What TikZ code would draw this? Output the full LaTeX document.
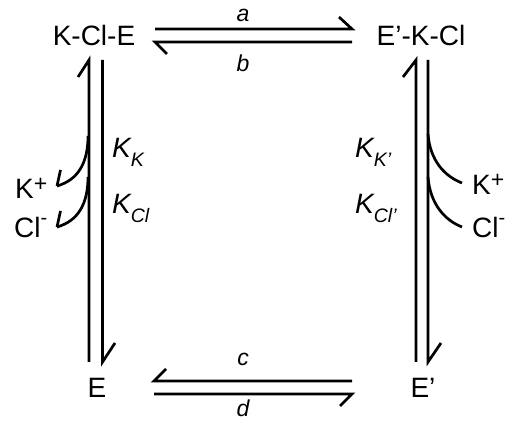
\documentclass[tikz,border=0pt]{standalone}
\usepackage{fontspec}
\setmainfont{Liberation Sans}
\newcommand{\bigf}{\fontsize{28}{30}\selectfont}
\newcommand{\smallf}{\fontsize{19.5}{21}\selectfont}
\newcommand{\labf}{\fontsize{23}{25}\selectfont\itshape}
\newcommand{\subs}[1]{\raisebox{-9pt}{\smallf #1}}
\newcommand{\supplus}{\raisebox{7.5pt}{\fontsize{23}{24}\selectfont +}}
\newcommand{\supminus}{\raisebox{13pt}{\fontsize{20}{21}\selectfont -}}
\begin{document}
\begin{tikzpicture}[x=1pt,y=-1pt,
  line/.style={line width=2.7pt,line join=miter,line cap=butt},
  curveline/.style={line width=2.7pt,line cap=butt},
  txt/.style={inner sep=0pt,anchor=base,font=\bigf},
  lbl/.style={inner sep=0pt,anchor=base,font=\labf},
  ktxt/.style={inner sep=0pt,anchor=base west,font=\bigf\itshape},
  iontxt/.style={inner sep=0pt,anchor=base west,font=\bigf}]
\useasboundingbox (0,0) rectangle (514,427);
% species
\node[txt] (KClE) at (94,46) {K-Cl-E};
\node[txt] (EKCl) at (421,46) {E’-K-Cl};
\node[txt] (E) at (97,398) {E};
\node[txt] (Ep) at (423,398) {E’};
% top arrows
\coordinate (t1s) at (155,29); \coordinate (t1e) at (352,29);
\coordinate (t2s) at (352,42); \coordinate (t2e) at (155,42);
\draw[line] (t1s) -- (t1e) -- ++(-13,-12);
\draw[line] (t2s) -- (t2e) -- ++(12,12);
\node[lbl] (a) at (243,22) {a};
\node[lbl] (b) at (243,72) {b};
% bottom arrows
\coordinate (b1s) at (352,381); \coordinate (b1e) at (154,381);
\coordinate (b2s) at (154,394); \coordinate (b2e) at (352,394);
\draw[line] (b1s) -- (b1e) -- ++(12,-12);
\draw[line] (b2s) -- (b2e) -- ++(-12,12);
\node[lbl] (c) at (243,366) {c};
\node[lbl] (d) at (243,417) {d};
% left vertical
\coordinate (l1s) at (89,362); \coordinate (l1e) at (89,60);
\coordinate (l2s) at (102.5,60); \coordinate (l2e) at (102.5,362);
\draw[line] (l1s) -- (l1e) -- ++(-11,17);
\draw[line] (l2s) -- (l2e) -- ++(12.5,-19);
% right vertical
\coordinate (r1s) at (416,362); \coordinate (r1e) at (416,60);
\coordinate (r2s) at (428,60); \coordinate (r2e) at (428,362);
\draw[line] (r1s) -- (r1e) -- ++(-13,17);
\draw[line] (r2s) -- (r2e) -- ++(13,-19);
% left curved arrows
\coordinate (lc1s) at (88,136); \coordinate (lc1e) at (57,186);
\coordinate (lc2s) at (88,177); \coordinate (lc2e) at (57,227);
\draw[curveline] (lc1s) .. controls (88,163) and (78,180) .. (lc1e);
\draw[line] (lc1e) -- ++(3.5,-16);
\draw[curveline] (lc2s) .. controls (88,204) and (78,221) .. (lc2e);
\draw[line] (lc2e) -- ++(3.5,-16);
% right curves
\coordinate (rc1s) at (428,134); \coordinate (rc1e) at (462,183);
\coordinate (rc2s) at (428,177); \coordinate (rc2e) at (462,227);
\draw[curveline] (rc1s) .. controls (430,160) and (444,176) .. (rc1e);
\draw[curveline] (rc2s) .. controls (430,203) and (444,220) .. (rc2e);
% constants
\node[ktxt] (KK) at (112,158) {K\subs{K}};
\node[ktxt] (KCl) at (112,214) {K\subs{Cl}};
\node[ktxt] (KKp) at (355,158) {K\subs{K’}};
\node[ktxt] (KClp) at (355,214) {K\subs{Cl’}};
% ions
\node[iontxt] (Kl) at (15,199) {K\supplus};
\node[iontxt] (Cll) at (14,238) {Cl\supminus};
\node[iontxt] (Kr) at (472,195) {K\supplus};
\node[iontxt] (Clr) at (472,238) {Cl\supminus};
\end{tikzpicture}
\end{document}
